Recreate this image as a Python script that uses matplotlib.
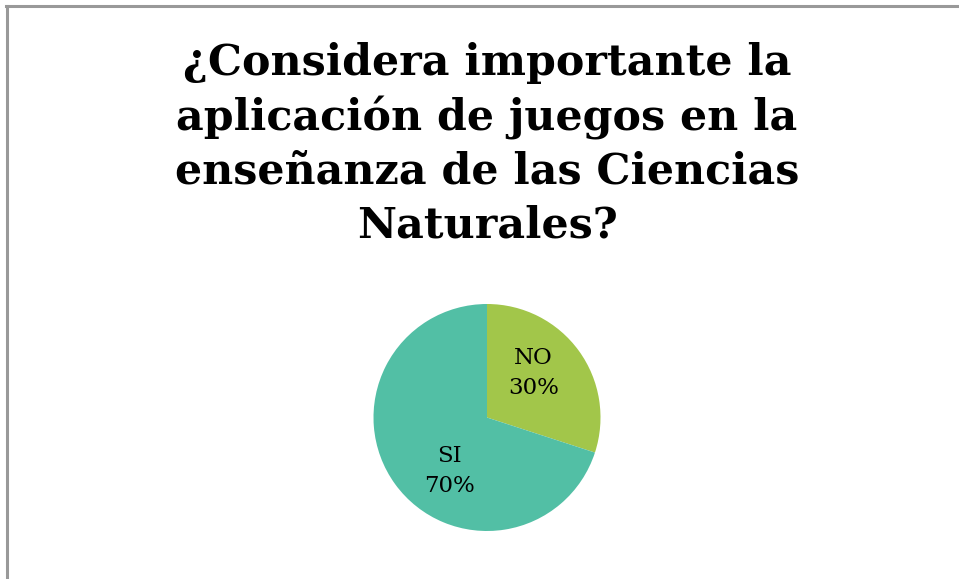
import matplotlib
matplotlib.use('Agg')
import matplotlib.pyplot as plt
from matplotlib.lines import Line2D

labels = ['NO', 'SI']
values = [30, 70]
colors = ['#a2c64a', '#52bfa5']
title = '¿Considera importante la\naplicación de juegos en la\nenseñanza de las Ciencias\nNaturales?'

fig = plt.figure(figsize=(9.59, 5.79), dpi=100)

# frame lines (top and left edge of the chart area)
fig.add_artist(Line2D([6/959, 959/959], [1 - 5.5/579, 1 - 5.5/579], color='#999999', lw=2.2))
fig.add_artist(Line2D([6.5/959, 6.5/959], [0, 1 - 5.5/579], color='#999999', lw=2.2))

fig.text(487/959, 1 - 144/579, title, ha='center', va='center',
         fontsize=30.8, fontweight='bold', family='DejaVu Serif',
         linespacing=1.34)

r = 113.5
cx, cy = 487, 417.5
ax = fig.add_axes([(cx - r)/959, 1 - (cy + r)/579, 2*r/959, 2*r/579])
wedges, texts = ax.pie(values, colors=colors, startangle=90, counterclock=False,
                       radius=1.0, wedgeprops=dict(linewidth=0))
ax.set_xlim(-1, 1)
ax.set_ylim(-1, 1)
ax.set_aspect('auto')
ax.axis('off')

label_pos = [(0.41, 0.39), (-0.33, -0.47)]
for lab, v, (x, y) in zip(labels, values, label_pos):
    ax.text(x, y, f'{lab}\n{v}%', ha='center', va='center', fontsize=16.5,
            family='DejaVu Serif', linespacing=1.5)

fig.savefig('out.png', dpi=100)
